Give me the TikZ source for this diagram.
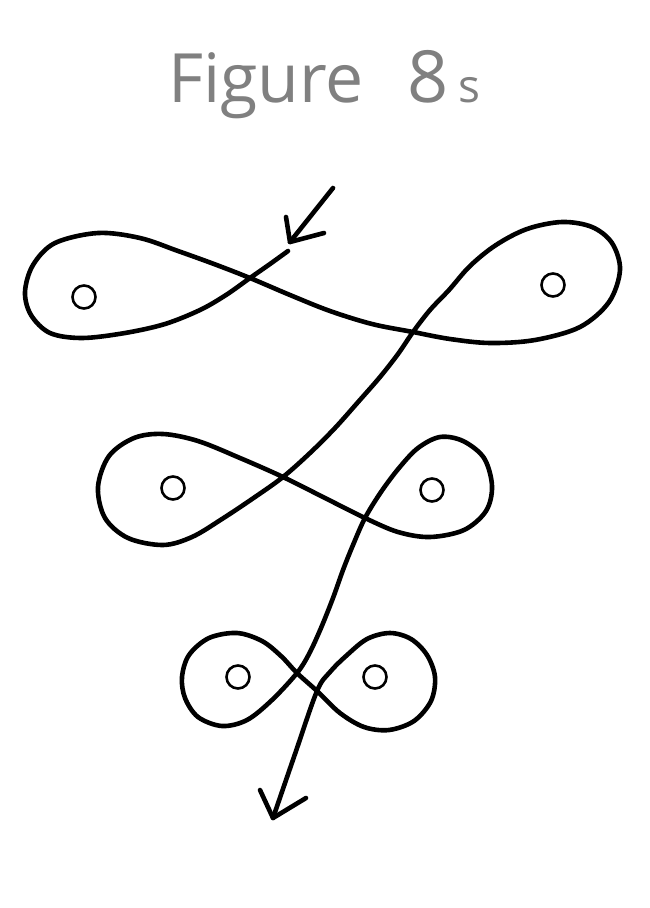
\documentclass[tikz,border=0pt]{standalone}
\usepackage{fontspec}
\setmainfont{Open Sans}
\begin{document}
\begin{tikzpicture}[x=1pt,y=-1pt,
  stroke/.style={line width=4.6pt,line cap=round,line join=round,black},
  hole/.style={circle,draw=black,line width=2.6pt,minimum size=23pt,inner sep=0pt},
  title/.style={text=black!50,inner sep=0pt,anchor=base west}]
\useasboundingbox[fill=white] (0,0) rectangle (650,908);
\node[title] (t) at (168,102) {\fontsize{68}{74}\selectfont Figure\ \kern26pt{\fontsize{72}{76}\selectfont 8}\kern10pt{\fontsize{46}{50}\selectfont s}};
% holes
\node[hole] (h1) at (84,297) {};
\node[hole] (h2) at (553,285) {};
\node[hole] (h3) at (173,488) {};
\node[hole] (h4) at (432,490) {};
\node[hole] (h5) at (238,677) {};
\node[hole] (h6) at (375,677) {};
% entry arrow
\coordinate (a0) at (333,188);
\coordinate (a1) at (290,242);
\coordinate (a2) at (286,217);
\coordinate (a3) at (324,233);
\draw[stroke] (a0) -- (a1);
\draw[stroke] (a2) -- (a1) -- (a3);
% exit arrow
\coordinate (e1) at (273,818);
\coordinate (e2) at (260,790);
\coordinate (e3) at (306,798);
\draw[stroke] (e2) -- (e1) -- (e3);
% main stroke
\draw[stroke] plot[smooth,tension=0.55] coordinates {
 (288,251) (270,264) (250,278) (226,295) (200,310) (165,324) (125,333) (82,338) (50,333) (31,315) (25,292) (33,265) (55,243) (98,233) (140,238) (178,251) (214,264) (250,278) (290,295) (330,311) (372,324) (413,332) (450,339) (490,343) (535,340) (580,327) (609,302) (620,270) (612,243) (592,227) (562,222) (527,229) (496,245) (470,266) (449,290) (430,310) (413,332) (398,354) (380,377) (359,401) (335,428) (310,453) (283,477) (255,497) (222,519) (192,537) (163,545) (128,538) (105,518) (98,487) (109,456) (134,438) (163,434) (198,441) (240,458) (283,477) (325,498) (365,518) (398,532) (430,537) (464,530) (486,511) (492,486) (484,458) (463,441) (440,437) (418,448) (399,468) (381,492) (365,518) (353,545) (343,570) (333,598) (321,628) (309,654) (297,673) (272,700) (247,720) (222,726) (198,717) (185,698) (182,677) (189,655) (209,638) (237,633) (262,641) (281,656) (297,673) (317,691) (340,713) (364,727) (389,730) (414,721) (431,701) (435,677) (427,655) (411,639) (390,633) (367,639) (346,656) (330,672) (317,691) (295,754) (273,818)};
\end{tikzpicture}
\end{document}
